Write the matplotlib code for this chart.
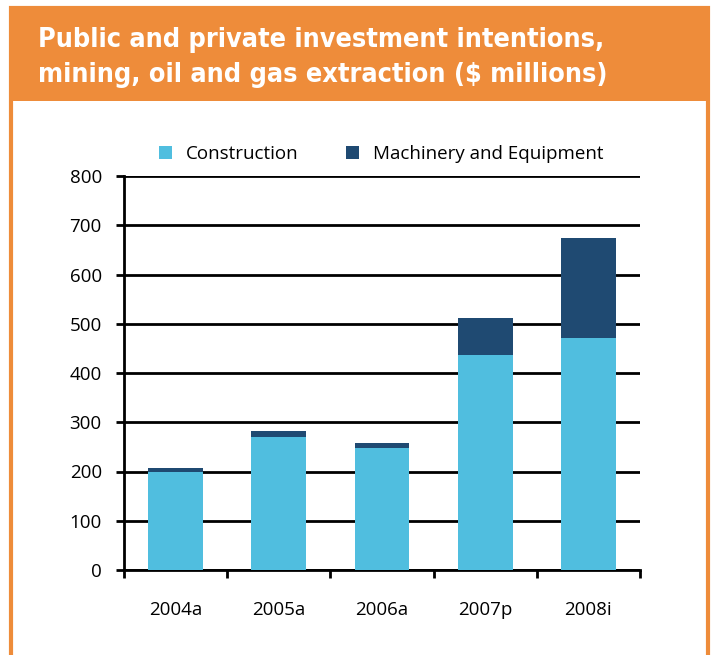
import matplotlib.pyplot as plt
from matplotlib.patches import Rectangle
import numpy as np

years = ['2004a', '2005a', '2006a', '2007p', '2008i']
construction = [200, 271, 248, 437, 471]
machinery = [8, 12, 10, 75, 203]

orange = '#EE8C3A'
cyan = '#50BEDF'
navy = '#1F4A72'
font = 'Open Sans'

fig = plt.figure(figsize=(7.12, 6.55), dpi=100)

# orange frame and title band
fig.patches.append(Rectangle((11/712, -0.05), 697/712, 1.05 - 8/655, transform=fig.transFigure,
                             facecolor='white', edgecolor=orange, linewidth=3, zorder=0))
fig.patches.append(Rectangle((10/712, 1 - 101/655), 700/712, 93/655, transform=fig.transFigure,
                             facecolor=orange, edgecolor='none', zorder=1))
title_kw = dict(color='white', fontsize=19.4, fontweight='bold', family='DejaVu Sans',
                fontstretch='condensed', va='center', ha='left')
fig.text(38/712, 1 - 40/655, 'Public and private investment intentions,', **title_kw)
fig.text(38/712, 1 - 75/655, 'mining, oil and gas extraction ($ millions)', **title_kw)

ax = fig.add_axes([124/712, 85/655, 516/712, 394/655])
ax.set_zorder(5)
ax.patch.set_alpha(0)
x = np.arange(len(years))
ax.bar(x, construction, width=0.53, color=cyan, label='Construction', zorder=3)
ax.bar(x, machinery, width=0.53, bottom=construction, color=navy,
       label='Machinery and Equipment', zorder=3)

ax.set_xlim(-0.5, 4.5)
ax.set_ylim(0, 800)
ax.set_yticks(range(0, 801, 100))
ax.yaxis.grid(True, color='black', linewidth=2, zorder=0)
ax.set_axisbelow(True)

ax.set_xticks(np.arange(-0.5, 5, 1))
ax.set_xticklabels([])
ax.set_xticks(x, minor=True)
ax.set_xticklabels(years, minor=True, fontsize=13.5, family=font)
ax.tick_params(axis='x', which='minor', length=0, pad=22)
ax.tick_params(axis='x', which='major', length=6, width=2, direction='out')
ax.tick_params(axis='y', length=6, width=2, labelsize=13.5, pad=10)
for lbl in ax.get_yticklabels():
    lbl.set_family(font)

for s in ['top', 'right']:
    ax.spines[s].set_visible(False)
ax.spines['left'].set_linewidth(2)
ax.spines['bottom'].set_linewidth(2)

ax.legend(loc='center left', bbox_to_anchor=(0.068, 1 + 22/394), ncol=2, frameon=False,
          prop={'family': font, 'size': 13.5}, handlelength=0.7, handleheight=0.7,
          columnspacing=2.5, handletextpad=0.75, borderaxespad=0, borderpad=0)

fig.savefig('out.png', dpi=100)
